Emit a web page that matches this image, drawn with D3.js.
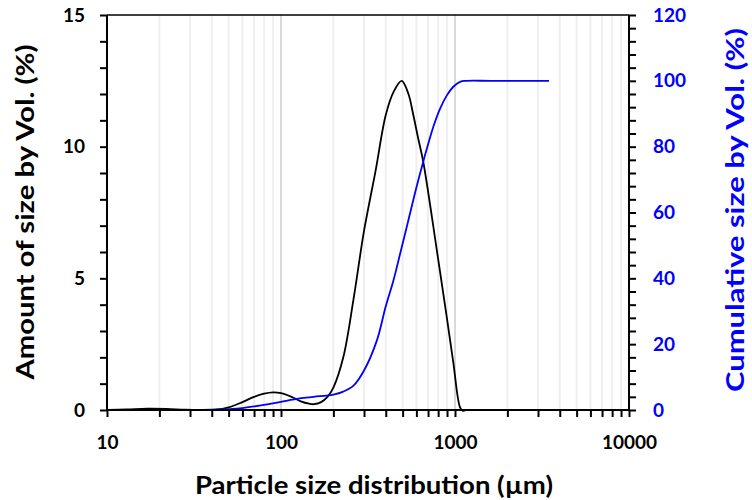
<!DOCTYPE html>
<html>
<head>
<meta charset="utf-8">
<script src="https://cdn.jsdelivr.net/npm/d3@7"></script>
<style>
  body { margin: 0; background: #fff; }
  text { font-family: Lato, "Open Sans", sans-serif; font-weight: bold; }
</style>
</head>
<body>
<div id="chart"></div>
<script>
// particle size (µm) and amount by volume (%)
const sizeAmount = [10, 13, 17, 22, 28, 35, 42, 50, 60, 70, 80, 90, 100, 115, 130, 145, 155, 170, 185, 200,
    228, 261, 300, 350, 400, 445, 494, 540, 576, 615, 658, 785, 896, 978, 1069, 1110, 1160, 1220];
const amount = [0, 0.02, 0.05, 0.04, 0.01, 0, 0.01, 0.1, 0.3, 0.5, 0.62, 0.67, 0.64, 0.5, 0.33, 0.24, 0.22, 0.3, 0.5, 0.85,
    2.0, 4.2, 6.8, 9.1, 11.2, 12.1, 12.5, 12.0, 11.2, 10.3, 9.4, 6.1, 3.55, 1.8, 0.1, -0.03, 0, 0];

// cumulative size by volume (%)
const sizeCumul = [10, 20, 40, 60, 90, 128, 154, 200, 228, 261, 300, 355, 400, 442, 483, 528, 576, 602, 658, 750, 820, 896, 978, 1069, 1156, 1600, 2400, 3470];
const cumulative = [0, 0.05, 0.1, 0.6, 2.0, 3.5, 4.0, 4.7, 5.6, 7.4, 12.0, 21.0, 31.5, 39.2, 47.3, 55.6, 63.8, 67.9, 75.6, 86.0, 91.5, 95.5, 98.2, 99.7, 100, 100, 100, 100];

const xTicks = [10, 100, 1000, 10000];
const yLeftTicks = [0, 5, 10, 15];
const yRightTicks = [0, 20, 40, 60, 80, 100, 120];

const width = 752, height = 500;
const margin = {top: 15, right: 123, bottom: 90, left: 107};

const svg = d3.select("#chart").append("svg")
    .attr("width", width)
    .attr("height", height);

const x = d3.scaleLog()
    .domain([10, 10000])
    .range([margin.left, width - margin.right]);
const y = d3.scaleLinear()
    .domain([0, 15])
    .range([height - margin.bottom, margin.top]);
const y2 = d3.scaleLinear()
    .domain([0, 120])
    .range([height - margin.bottom, margin.top]);

// minor ticks on the log axis
let logMinor = [];
for (let d = 10; d < 10000; d *= 10) {
    for (let k = 1; k <= 10; k++) logMinor.push(d * k);
}
logMinor = Array.from(new Set(logMinor));

// vertical gridlines
svg.append("g")
  .selectAll("line")
  .data(logMinor.filter(v => v > 10 && v < 10000))
  .join("line")
    .attr("x1", d => x(d)).attr("x2", d => x(d))
    .attr("y1", y(0)).attr("y2", y(15))
    .attr("stroke", d => xTicks.includes(d) ? "#d9d9d9" : "#efefef")
    .attr("stroke-width", 2);

// curves
const lineAmount = d3.line()
    .x((d, i) => x(sizeAmount[i]))
    .y(d => y(d))
    .curve(d3.curveCatmullRom.alpha(0.5));
const lineCumul = d3.line()
    .x((d, i) => x(sizeCumul[i]))
    .y(d => y2(d))
    .curve(d3.curveCatmullRom.alpha(0.5));

svg.append("path")
    .attr("d", lineAmount(amount))
    .attr("fill", "none")
    .attr("stroke", "#000")
    .attr("stroke-width", 1.8);

svg.append("path")
    .attr("d", lineCumul(cumulative))
    .attr("fill", "none")
    .attr("stroke", "#0000ff")
    .attr("stroke-width", 1.8);

// axes
const xAxis = svg.append("g")
    .attr("transform", `translate(0,${y(0)})`)
    .call(d3.axisBottom(x).tickValues(logMinor).tickSize(7).tickFormat(d => xTicks.includes(d) ? d : ""));

const yAxis = svg.append("g")
    .attr("transform", `translate(${x(10)},0)`)
    .call(d3.axisLeft(y).tickValues(d3.range(0, 16, 1)).tickSize(7).tickFormat(d => yLeftTicks.includes(d) ? d : ""));

const y2Axis = svg.append("g")
    .attr("transform", `translate(${x(10000)},0)`)
    .call(d3.axisRight(y2).tickValues(d3.range(0, 121, 4)).tickSize(7).tickFormat(d => yRightTicks.includes(d) ? d : ""));

// top border
svg.append("line")
    .attr("x1", x(10)).attr("x2", x(10000))
    .attr("y1", y(15)).attr("y2", y(15))
    .attr("stroke", "#000")
    .attr("stroke-width", 1.5);

[xAxis, yAxis, y2Axis].forEach(a => {
    a.select(".domain").attr("stroke-width", 2).attr("stroke", "#000");
    a.selectAll(".tick line").attr("stroke-width", 2).attr("stroke", "#000");
    a.selectAll(".tick text").style("font-size", "19px").style("font-weight", "bold").attr("fill", "#000");
});
xAxis.selectAll(".tick text").attr("dy", "1.53em");
yAxis.selectAll(".tick text").attr("x", -22);
y2Axis.selectAll(".tick text").attr("x", 24).attr("fill", "#0000ff");
y2Axis.select(".domain").attr("d", `M0,${y2(0)}V${y2(120)}`);
yAxis.select(".domain").attr("d", `M0,${y(0)}V${y(15)}`);
xAxis.select(".domain").attr("d", `M${x(10)},0H${x(10000)}`);

// axis titles
svg.append("text")
    .attr("x", 374)
    .attr("y", 494)
    .attr("text-anchor", "middle")
    .attr("textLength", 358)
    .attr("lengthAdjust", "spacingAndGlyphs")
    .style("font-size", "25px")
    .text("Particle size distribution (µm)");

svg.append("text")
    .attr("transform", `translate(34,212) rotate(-90)`)
    .attr("text-anchor", "middle")
    .attr("textLength", 335)
    .attr("lengthAdjust", "spacingAndGlyphs")
    .style("font-size", "25px")
    .text("Amount of size by Vol. (%)");

svg.append("text")
    .attr("transform", `translate(744,210) rotate(-90)`)
    .attr("text-anchor", "middle")
    .attr("fill", "#0000ff")
    .attr("textLength", 364)
    .attr("lengthAdjust", "spacingAndGlyphs")
    .style("font-size", "25px")
    .text("Cumulative size by Vol. (%)");
</script>
</body>
</html>
